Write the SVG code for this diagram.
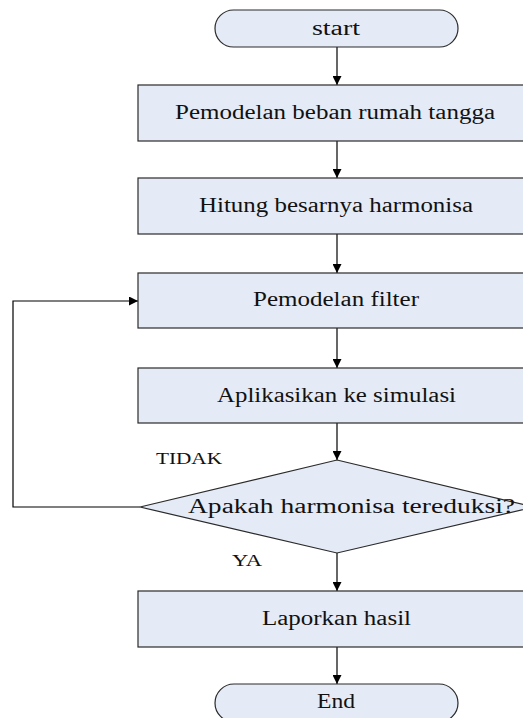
<svg xmlns="http://www.w3.org/2000/svg" width="523" height="718" viewBox="0 0 523 718">
<style>
.shape{fill:#e5ebf6;stroke:#2a2a2a;stroke-width:1.2}
.conn{fill:none;stroke:#000;stroke-width:1.2}
.t,.lbl{font-family:"Liberation Serif","Times New Roman",serif;fill:#111}
.t{font-size:20px}
.lbl{font-size:16px}
</style>
<defs>
<marker id="arr" viewBox="0 0 10 10" refX="10" refY="5" markerWidth="9" markerHeight="9" markerUnits="userSpaceOnUse" orient="auto">
<path d="M0,0 L10,5 L0,10 Z" fill="#000"/>
</marker>
</defs>
<rect width="523" height="718" fill="#fff"/>
<g id="connectors">
<line class="conn" x1="337" y1="47" x2="337" y2="85" marker-end="url(#arr)"/>
<line class="conn" x1="337" y1="141" x2="337" y2="178" marker-end="url(#arr)"/>
<line class="conn" x1="337" y1="234" x2="337" y2="273" marker-end="url(#arr)"/>
<line class="conn" x1="337" y1="328" x2="337" y2="368" marker-end="url(#arr)"/>
<line class="conn" x1="337" y1="423" x2="337" y2="460" marker-end="url(#arr)"/>
<polyline class="conn" points="140,507 13,507 13,301 138,301" marker-end="url(#arr)"/>
<line class="conn" x1="337" y1="553" x2="337" y2="591" marker-end="url(#arr)"/>
<line class="conn" x1="337" y1="647" x2="337" y2="684" marker-end="url(#arr)"/>
<text class="lbl" x="156" y="464" textLength="66" lengthAdjust="spacingAndGlyphs">TIDAK</text>
<text class="lbl" x="232" y="566" textLength="30" lengthAdjust="spacingAndGlyphs">YA</text>
</g>
<g id="start">
<rect class="shape" x="215" y="10" width="243" height="37" rx="18.5"/>
<text class="t" x="312" y="35" textLength="48" lengthAdjust="spacingAndGlyphs">start</text>
</g>
<g id="box1">
<rect class="shape" x="138" y="85" width="400" height="56"/>
<text class="t" x="175" y="119" textLength="320" lengthAdjust="spacingAndGlyphs">Pemodelan beban rumah tangga</text>
</g>
<g id="box2">
<rect class="shape" x="138" y="178" width="400" height="56"/>
<text class="t" x="199" y="212" textLength="274" lengthAdjust="spacingAndGlyphs">Hitung besarnya harmonisa</text>
</g>
<g id="box3">
<rect class="shape" x="138" y="273" width="400" height="55"/>
<text class="t" x="253" y="306" textLength="166" lengthAdjust="spacingAndGlyphs">Pemodelan filter</text>
</g>
<g id="box4">
<rect class="shape" x="138" y="368" width="400" height="55"/>
<text class="t" x="217" y="402" textLength="239" lengthAdjust="spacingAndGlyphs">Aplikasikan ke simulasi</text>
</g>
<g id="decision">
<polygon class="shape" points="337,460 534,507 337,553 140,507"/>
<text class="t" x="188" y="513" textLength="327" lengthAdjust="spacingAndGlyphs">Apakah harmonisa tereduksi?</text>
</g>
<g id="box6">
<rect class="shape" x="138" y="591" width="400" height="56"/>
<text class="t" x="262" y="625" textLength="149" lengthAdjust="spacingAndGlyphs">Laporkan hasil</text>
</g>
<g id="end">
<rect class="shape" x="215" y="684" width="243" height="38" rx="19"/>
<text class="t" x="317" y="708" textLength="38" lengthAdjust="spacingAndGlyphs">End</text>
</g>
</svg>
